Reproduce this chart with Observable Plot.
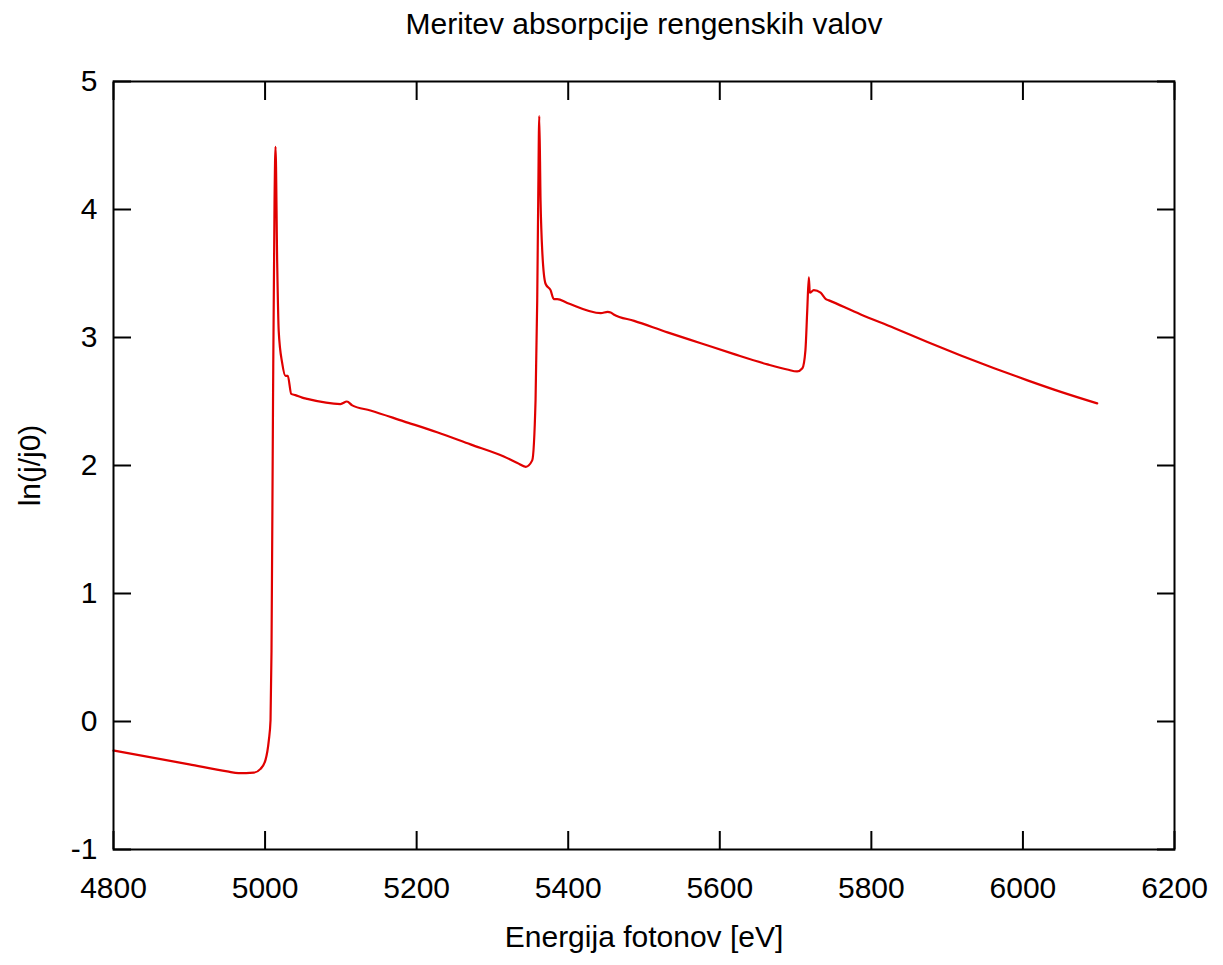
<!DOCTYPE html>
<html>
<head>
<meta charset="utf-8">
<script src="https://cdn.jsdelivr.net/npm/d3@7"></script>
<script src="https://cdn.jsdelivr.net/npm/@observablehq/plot@0.6"></script>
<style>
  html, body { margin: 0; padding: 0; background: white; }
</style>
</head>
<body>
<div id="chart"></div>
<script>
const energy = [4800, 4900, 4950, 4965, 4985, 4994, 5000.6, 5004.9, 5007.2, 5008.5, 5010.5, 5012.5, 5013.8,
  5016, 5018, 5022.6, 5027, 5030, 5034.5, 5040, 5049, 5055.6, 5099.5, 5108, 5115, 5139, 5183, 5227, 5271,
  5315, 5333, 5344, 5352.5, 5356.9, 5359.1, 5360.4, 5361.8, 5363.5, 5365.7, 5370.1, 5376.7, 5381, 5385.5,
  5398.7, 5443, 5452, 5456, 5460, 5487, 5531, 5575, 5619, 5663, 5689, 5702, 5709, 5713, 5715.4, 5717.5,
  5718.8, 5724, 5733, 5740, 5744, 5786, 5830, 5874, 5918, 5962, 6006, 6050, 6098];
const lnRatio = [-0.227, -0.335, -0.39, -0.404, -0.40, -0.37, -0.30, -0.15, 0.01, 0.55, 2.51, 4.07, 4.49,
  3.58, 3.05, 2.80, 2.70, 2.70, 2.56, 2.55, 2.53, 2.52, 2.48, 2.50, 2.47, 2.43, 2.345, 2.26, 2.165,
  2.07, 2.02, 1.99, 2.04, 2.51, 3.29, 4.07, 4.73, 4.07, 3.68, 3.42, 3.37, 3.30, 3.30,
  3.27, 3.19, 3.20, 3.195, 3.18, 3.13, 3.04, 2.955, 2.87, 2.79, 2.75, 2.735, 2.76, 2.90, 3.21, 3.47,
  3.35, 3.37, 3.35, 3.30, 3.29, 3.18, 3.075, 2.965, 2.86, 2.76, 2.665, 2.575, 2.485];
const xTicks = [4800, 5000, 5200, 5400, 5600, 5800, 6000, 6200];
const yTicks = [-1, 0, 1, 2, 3, 4, 5];
const titleText = "Meritev absorpcije rengenskih valov";
const xLabel = "Energija fotonov [eV]";
const yLabel = "ln(j/j0)";

const data = energy.map((x, i) => ({x, y: lnRatio[i]}));
const fmt = d => String(d);

const chart = Plot.plot({
  width: 1223,
  height: 965,
  marginLeft: 113,
  marginRight: 49,
  marginTop: 81,
  marginBottom: 116,
  style: {fontFamily: "'Liberation Sans', Arial, sans-serif", background: "white", color: "black"},
  x: {domain: [4800, 6200]},
  y: {domain: [-1, 5]},
  marks: [
    Plot.line(data, {x: "x", y: "y", stroke: "#e00000", strokeWidth: 2.2, curve: "monotone-x"}),
    Plot.frame({stroke: "black", strokeWidth: 2}),
    Plot.axisX({anchor: "bottom", ticks: xTicks, tickSize: 18, dy: -18, tickFormat: () => "", label: null, strokeWidth: 2}),
    Plot.axisX({anchor: "top", ticks: xTicks, tickSize: 18, dy: 18, tickFormat: () => "", label: null, strokeWidth: 2}),
    Plot.axisY({anchor: "left", ticks: yTicks, tickSize: 18, dx: 18, tickFormat: () => "", label: null, strokeWidth: 2}),
    Plot.axisY({anchor: "right", ticks: yTicks, tickSize: 18, dx: -18, tickFormat: () => "", label: null, strokeWidth: 2}),
    Plot.axisX({anchor: "bottom", ticks: xTicks, tickSize: 0, tickPadding: 27, tickFormat: fmt, label: null, fontSize: 30, fill: "black"}),
    Plot.axisY({anchor: "left", ticks: yTicks, tickSize: 0, tickPadding: 16, tickFormat: fmt, label: null, fontSize: 30, fill: "black"}),
    Plot.text([titleText], {frameAnchor: "top", dy: -57, lineAnchor: "middle", textAnchor: "middle", fontSize: 30, fill: "black"}),
    Plot.text([xLabel], {frameAnchor: "bottom", dy: 88, lineAnchor: "middle", textAnchor: "middle", fontSize: 30, fill: "black"}),
    Plot.text([yLabel], {frameAnchor: "left", dx: -83, rotate: -90, lineAnchor: "middle", textAnchor: "middle", fontSize: 30, fill: "black"})
  ]
});
document.getElementById("chart").appendChild(chart);
</script>
</body>
</html>
